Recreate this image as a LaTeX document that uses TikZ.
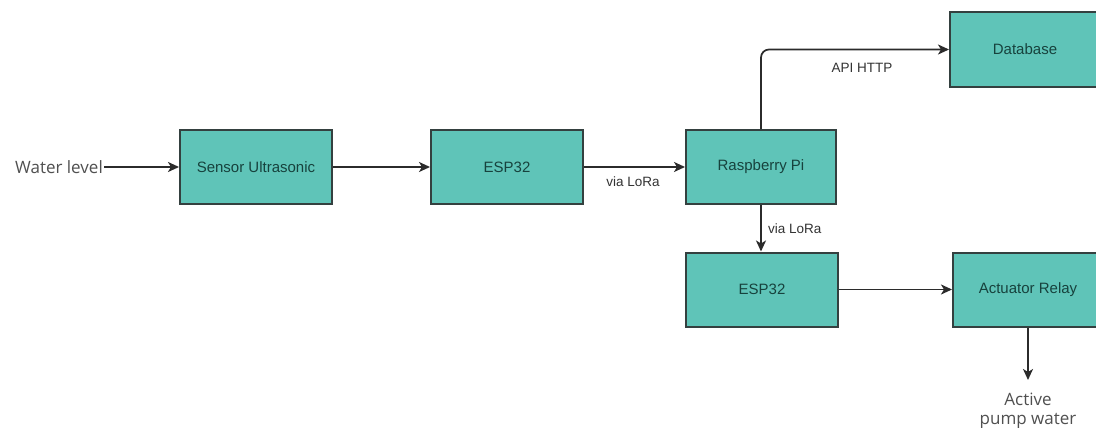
\documentclass[tikz,border=0pt]{standalone}
\usepackage{fontspec}
\setmainfont{Liberation Sans}
\newfontfamily\opensans{Open Sans}
\usetikzlibrary{arrows.meta}
\definecolor{boxfill}{HTML}{5FC4B8}
\definecolor{boxline}{HTML}{34403F}
\definecolor{boxtext}{HTML}{17423D}
\definecolor{linecol}{HTML}{2B2B2B}
\definecolor{labtext}{HTML}{333333}
\definecolor{exttext}{HTML}{505050}
\tikzset{
  blk/.style={draw=boxline, line width=2pt, fill=boxfill, minimum width=152pt, minimum height=74pt, inner sep=0pt, text=boxtext, font=\fontsize{15}{18}\selectfont},
  conn/.style={draw=linecol, line width=1.7pt, -{Stealth[length=11pt,width=10pt,inset=3pt]}},
  lab/.style={text=labtext, font=\fontsize{13.5}{16}\selectfont, inner sep=0pt},
  ext/.style={text=exttext, font=\opensans\fontsize{17}{19}\selectfont}
}
\begin{document}
\begin{tikzpicture}[x=1pt,y=-1pt]
\useasboundingbox[fill=white] (0,0) rectangle (1096,428);
\node[blk] (sensor) at (256,167) {Sensor Ultrasonic};
\node[blk] (esp1) at (507,167) {ESP32};
\node[blk, minimum width=150pt] (rpi) at (761,167) {Raspberry Pi};
\node[blk, minimum width=150pt, minimum height=75pt] (db) at (1025,49.5) {Database};
\node[blk] (esp2) at (762,289.5) {ESP32};
\node[blk, minimum width=150pt] (relay) at (1028,289.5) {Actuator Relay};
\node[ext, anchor=east, inner sep=1pt] (water) at (104,167) {Water level};
\node[ext, align=center, anchor=north, inner sep=1pt] (pump) at (1028,392) {Active\\pump water};
\draw[conn] (water.east) -- (sensor.west);
\draw[conn] (sensor.east) -- (esp1.west);
\draw[conn] (esp1.east) -- (rpi.west);
\node[lab] (l1) at (633,182) {via LoRa};
\draw[conn, rounded corners=8pt] (rpi.north) |- (db.west);
\node[lab] (l2) at (862,68) {API HTTP};
\draw[conn] (rpi.south) -- (rpi.south |- esp2.north);
\node[lab, anchor=west] (l3) at (768,229) {via LoRa};
\draw[conn] (esp2.east) -- (relay.west);
\draw[conn, shorten >=12pt] (relay.south) -- (pump.north);
\end{tikzpicture}
\end{document}
